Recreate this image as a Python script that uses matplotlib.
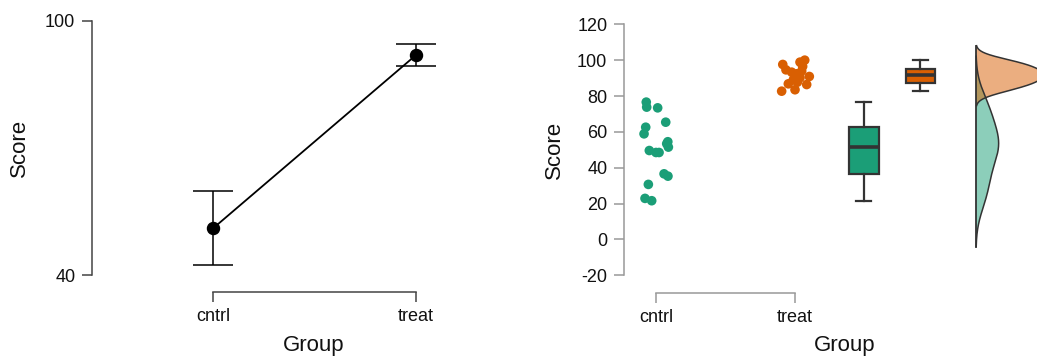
import numpy as np
import matplotlib
matplotlib.use("Agg")
import matplotlib.pyplot as plt

plt.rcParams['font.family'] = ['Liberation Sans', 'DejaVu Sans']
plt.rcParams['axes.unicode_minus'] = False

# ---------------- data ----------------
groups = ["cntrl", "treat"]
# left panel: means with 95% CI
group_means = [51.0, 91.9]
ci_lower = [42.3, 89.2]
ci_upper = [59.8, 94.6]
left_yticks = [40, 100]

# right panel: raw scores
cntrl_scores = [76.6, 73.8, 73.4, 65.4, 62.6, 58.9, 54.5, 53.4, 51.5, 49.6,
                48.5, 48.5, 36.6, 35.3, 30.7, 22.9, 21.6]
cntrl_jitter = [-0.07, -0.067, 0.012, 0.07, -0.074, -0.086, 0.085, 0.077, 0.089,
                -0.048, 0.0, 0.022, 0.058, 0.086, -0.055, -0.079, -0.031]
treat_scores = [100.0, 98.9, 97.6, 96.5, 94.6, 93.9, 93.3, 92.4, 90.9, 90.2,
                89.1, 87.7, 86.8, 86.4, 83.5, 82.7]
treat_jitter = [0.07, 0.036, -0.088, 0.055, -0.065, 0.048, -0.024, 0.012, 0.103,
                0.036, -0.012, 0.017, -0.048, 0.084, 0.0, -0.096]
right_yticks = [-20, 0, 20, 40, 60, 80, 100, 120]

colors = ["#1b9e77", "#d95f02"]

W, H = 1037, 358
fig = plt.figure(figsize=(W / 100, H / 100), dpi=100)


def px_axes(x0, x1, ytop, ybot):
    return fig.add_axes([x0 / W, (H - ybot) / H, (x1 - x0) / W, (ybot - ytop) / H])


# ---------------- left panel ----------------
axL = px_axes(92, 536, 20.7, 275)
xpos = np.arange(len(groups))
unit = 203.0
axL.set_xlim(-(213 - 92) / unit, (536 - 213) / unit)
axL.set_ylim(40, 100)
means = np.array(group_means)
yerr = np.vstack([means - np.array(ci_lower), np.array(ci_upper) - means])
axL.plot(xpos, means, color="black", lw=1.3, zorder=2)
axL.errorbar(xpos, means, yerr=yerr, fmt="none", ecolor="black", elinewidth=1.1,
             capsize=14.4, capthick=1.1, zorder=2)
axL.scatter(xpos, means, s=75, color="black", zorder=3)

for side in ["top", "right"]:
    axL.spines[side].set_visible(False)
axL.spines["left"].set_bounds(40, 100)
axL.spines["bottom"].set_bounds(0, 1)
axL.spines["bottom"].set_position(("outward", 12))
for side in ["left", "bottom"]:
    axL.spines[side].set_color("#444444")
    axL.spines[side].set_linewidth(1.1)
axL.set_yticks(left_yticks)
axL.set_xticks(xpos)
axL.set_xticklabels(groups)
axL.tick_params(axis="both", colors="#444444", labelcolor="#111111", labelsize=13,
                length=7, width=1.1, pad=5)
axL.set_ylabel("Score", fontsize=16, color="#111111")
axL.yaxis.set_label_coords(-(92 - 19.5) / (536 - 92), 0.5)
axL.set_xlabel("Group", fontsize=16, color="#111111")
axL.xaxis.set_label_coords(0.5, -(346 - 275) / (275 - 20.7))
axL.xaxis.label.set_verticalalignment("center")
axL.yaxis.label.set_verticalalignment("center")

# ---------------- right panel ----------------
axR = px_axes(624, 1066, 24.3, 275.3)
unitR = 139.0
axR.set_xlim(-(656 - 624) / unitR, (1066 - 656) / unitR)
axR.set_ylim(-20, 120)

datasets = [np.array(cntrl_scores), np.array(treat_scores)]
jitters = [np.array(cntrl_jitter), np.array(treat_jitter)]
for i, (d, j) in enumerate(zip(datasets, jitters)):
    axR.scatter(xpos[i] + j, d, s=48, color=colors[i], edgecolors="none", zorder=3)

box_pos = [1.496, 1.90]
bp = axR.boxplot(datasets, positions=box_pos, widths=0.21, patch_artist=True,
                 showfliers=False, capwidths=0.108, manage_ticks=False,
                 medianprops=dict(color="#333333", lw=2.6),
                 whiskerprops=dict(color="#333333", lw=1.6),
                 capprops=dict(color="#333333", lw=1.6),
                 boxprops=dict(edgecolor="#333333", lw=1.6))
for patch, c in zip(bp["boxes"], colors):
    patch.set_facecolor(c)


def kde_curve(data, cut=2.5):
    n = len(data)
    sd = np.std(data, ddof=1)
    bw = 1.06 * sd * n ** (-0.2)
    grid = np.linspace(data.min() - cut * bw, data.max() + cut * bw, 300)
    dens = np.exp(-0.5 * ((grid[:, None] - data[None, :]) / bw) ** 2).sum(axis=1)
    dens /= n * bw * np.sqrt(2 * np.pi)
    return grid, dens


base = (976 - 656) / unitR
dens_scale = 8.2
lo, hi = np.inf, -np.inf
for i, d in enumerate(datasets):
    g, dn = kde_curve(d)
    lo, hi = min(lo, g.min()), max(hi, g.max())
    axR.fill_betweenx(g, base, base + dn * dens_scale, facecolor=colors[i],
                      alpha=0.5, edgecolor="none", zorder=2)
    axR.plot(base + dn * dens_scale, g, color="#333333", lw=1.1, zorder=2.5)
axR.plot([base, base], [lo, hi], color="#333333", lw=1.3, zorder=2.6)

for side in ["top", "right"]:
    axR.spines[side].set_visible(False)
axR.spines["left"].set_bounds(-20, 120)
axR.spines["bottom"].set_bounds(0, 1)
axR.spines["bottom"].set_position(("outward", 12.5))
for side in ["left", "bottom"]:
    axR.spines[side].set_color("#999999")
    axR.spines[side].set_linewidth(1.1)
axR.set_yticks(right_yticks)
axR.set_xticks(xpos)
axR.set_xticklabels(groups)
axR.tick_params(axis="both", colors="#999999", labelcolor="#111111", labelsize=13,
                length=7, width=1.1, pad=5)
axR.set_ylabel("Score", fontsize=16, color="#111111")
axR.yaxis.set_label_coords(-(624 - 554) / (1066 - 624), 0.5)
axR.set_xlabel("Group", fontsize=16, color="#111111")
axR.xaxis.set_label_coords(0.5, -(346 - 275.3) / (275.3 - 24.3))
axR.xaxis.label.set_verticalalignment("center")
axR.yaxis.label.set_verticalalignment("center")

fig.savefig("out.png", dpi=100)
